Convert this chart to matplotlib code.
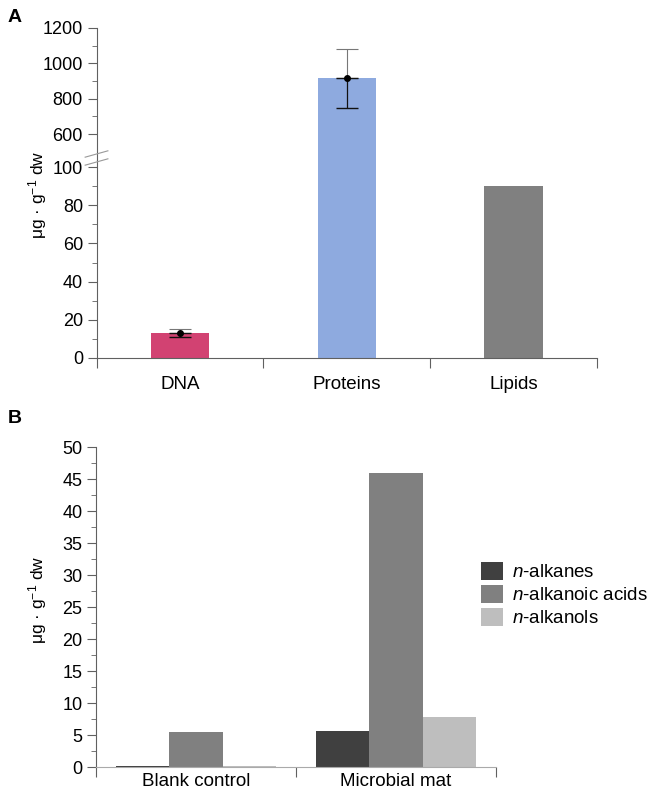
import numpy as np
import matplotlib.pyplot as plt
from matplotlib.lines import Line2D

plt.rcParams['font.family'] = ['Liberation Sans', 'DejaVu Sans']
plt.rcParams['mathtext.fontset'] = 'custom'
plt.rcParams['mathtext.rm'] = 'Liberation Sans'
plt.rcParams['mathtext.it'] = 'Liberation Sans:italic'
plt.rcParams['font.size'] = 13

# ---------------------------------------------------------------------
# Panel A data
cats_a = ["DNA", "Proteins", "Lipids"]
vals_a = [13, 915, 90]
err_up_a = [2, 165, 0]
err_lo_a = [2, 165, 0]
colors_a = ["#D24272", "#8EAADF", "#808080"]

# Panel B data
groups_b = ["Blank control", "Microbial mat"]
series_b = ["$\\it{n}$-alkanes", "$\\it{n}$-alkanoic acids", "$\\it{n}$-alkanols"]
alkanes = [0.1, 5.7]
alkanoic = [5.4, 45.9]
alkanols = [0.1, 7.8]
colors_b = ["#404040", "#808080", "#BEBEBE"]

ylabel = "μg · g$^{-1}$ dw"
axcol = "#606060"

fig = plt.figure(figsize=(6.5, 7.95), dpi=100)

# axes for panel A (broken y axis), top part sits right on the bottom part
ax_top = fig.add_axes([0.149, 1 - 160 / 795, 0.769, 132 / 795])
ax_bot = fig.add_axes([0.149, 1 - 358 / 795, 0.769, 198 / 795])
ax_b = fig.add_axes([0.148, 0.0352, 0.615, 0.4025])

x_a = np.arange(len(cats_a))
for ax in (ax_top, ax_bot):
    ax.bar(x_a, vals_a, width=0.35, color=colors_a, zorder=2)
    for xi, v, eu, el in zip(x_a, vals_a, err_up_a, err_lo_a):
        if eu == 0:
            continue
        ax.errorbar(xi, v, yerr=[[0], [eu]], fmt='none', ecolor='#777777',
                    elinewidth=0.8, capsize=8, capthick=0.8, zorder=3)
        ax.errorbar(xi, v, yerr=[[el], [0]], fmt='none', ecolor='#111111',
                    elinewidth=0.9, capsize=8, capthick=1.0, zorder=3)
        ax.plot(xi, v, 'o', color='black', ms=4, zorder=4)
    ax.set_xlim(-0.5, 2.5)
    for s in ('top', 'right'):
        ax.spines[s].set_visible(False)
    ax.spines['left'].set_color(axcol)
    ax.spines['bottom'].set_color(axcol)
    ax.tick_params(axis='y', which='major', length=6.5, color=axcol, labelsize=13)
    ax.tick_params(axis='y', which='minor', length=3.5, color=axcol)

ax_top.set_ylim(453, 1200)
ax_top.set_yticks([600, 800, 1000, 1200])
ax_top.set_yticks([700, 900, 1100], minor=True)
ax_top.spines['bottom'].set_visible(False)
ax_top.set_xticks([])

ax_bot.set_ylim(0, 103.7)
ax_bot.set_yticks(np.arange(0, 101, 20))
ax_bot.set_yticks(np.arange(10, 100, 20), minor=True)
ax_bot.set_xticks([-0.5, 0.5, 1.5, 2.5])
ax_bot.set_xticklabels([])
ax_bot.set_xticks(x_a, minor=True)
ax_bot.set_xticklabels(cats_a, minor=True, fontsize=13.5)
ax_bot.tick_params(axis='x', which='major', length=7, color=axcol)
ax_bot.tick_params(axis='x', which='minor', length=0, pad=13)

# break marks
for yy in (1 - 154 / 795, 1 - 162 / 795):
    fig.add_artist(Line2D([0.131, 0.166], [yy - 0.004, yy + 0.004],
                          color='#999999', lw=0.8))

fig.text(0.058, 0.755, ylabel, rotation=90, ha='center', va='center', fontsize=12.5)
fig.text(0.012, 0.978, "A", fontsize=14, fontweight='bold', va='center')

# ---------------------------------------------------------------------
# Panel B
x_b = np.arange(len(groups_b))
w = 0.2667
for off, vals, col, lab in zip([-w, 0, w], [alkanes, alkanoic, alkanols], colors_b, series_b):
    ax_b.bar(x_b + off, vals, width=w, color=col, label=lab, zorder=2)

ax_b.set_xlim(-0.5, 1.5)
ax_b.set_ylim(0, 50)
ax_b.set_yticks(np.arange(0, 51, 5))
ax_b.set_yticks(np.arange(2.5, 50, 5), minor=True)
ax_b.set_xticks([-0.5, 0.5, 1.5])
ax_b.set_xticklabels([])
ax_b.set_xticks(x_b, minor=True)
ax_b.set_xticklabels(groups_b, minor=True, fontsize=13.5)
ax_b.tick_params(axis='x', which='major', length=7, color=axcol)
ax_b.tick_params(axis='x', which='minor', length=0, pad=4)
ax_b.tick_params(axis='y', which='major', length=6.5, color=axcol, labelsize=13)
ax_b.tick_params(axis='y', which='minor', length=3.5, color=axcol)
for s in ('top', 'right'):
    ax_b.spines[s].set_visible(False)
ax_b.spines['left'].set_color(axcol)
ax_b.spines['bottom'].set_color('#aaaaaa')

fig.text(0.058, 0.245, ylabel, rotation=90, ha='center', va='center', fontsize=12.5)
fig.text(0.012, 0.474, "B", fontsize=14, fontweight='bold', va='center')

fig.legend(loc='upper left', bbox_to_anchor=(0.74, 1 - 562 / 795), frameon=False,
           fontsize=13.5, handlelength=1.15, handleheight=1.1, labelspacing=0.18,
           handletextpad=0.5, borderpad=0, borderaxespad=0)

fig.savefig("out.png", dpi=100)
